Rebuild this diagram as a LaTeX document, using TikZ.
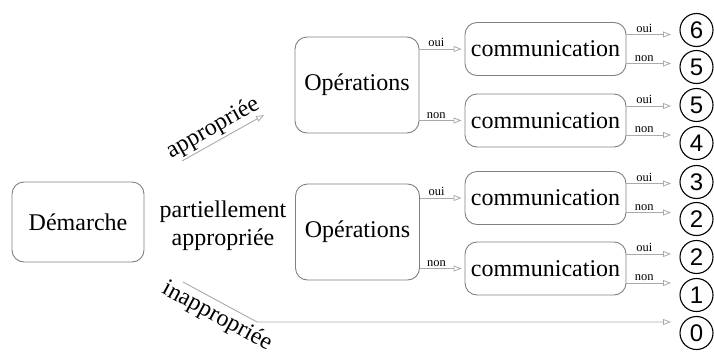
\documentclass[tikz,border=0pt]{standalone}
\usepackage{fontspec}
\setmainfont{Liberation Serif}
\newfontfamily\digitfont{Liberation Sans}
\usetikzlibrary{arrows.meta}
\definecolor{boxgray}{RGB}{128,128,128}
\definecolor{linegray}{RGB}{170,170,170}
\tikzset{
  bigtext/.style={font=\fontsize{24}{28}\selectfont},
  smalltext/.style={font=\fontsize{12.5}{14}\selectfont, inner sep=1.5pt},
  rbox/.style={draw=boxgray, line width=0.9pt, rounded corners=12pt, bigtext, inner sep=0pt},
  combox/.style={rbox, minimum width=161pt, minimum height=53pt},
  opbox/.style={rbox, minimum width=124pt, minimum height=96pt},
  numc/.style={circle, draw=black, line width=1.1pt, minimum size=33pt, inner sep=0pt,
    font=\digitfont\fontsize{24}{24}\selectfont},
  arr/.style={draw=linegray, line width=0.9pt, -{Triangle[open, length=8pt, width=6pt, line width=0.8pt]}},
}
\begin{document}
\begin{tikzpicture}[x=1pt, y=-1pt]
\useasboundingbox (0,0) rectangle (714,351);
% boxes
\node[rbox, minimum width=132pt, minimum height=80pt] (dem) at (78,222) {Démarche};
\node[opbox] (op1) at (357,85) {Opérations};
\node[opbox] (op2) at (357.5,232) {Opérations};
\node[combox] (c1) at (545.5,49) {communication};
\node[combox] (c2) at (545.5,120.5) {communication};
\node[combox] (c3) at (545.5,198) {communication};
\node[combox] (c4) at (545.5,268.5) {communication};
% result circles
\node[numc] (n1) at (696.5,30) {6};
\node[numc] (n2) at (696.5,67) {5};
\node[numc] (n3) at (696.5,105) {5};
\node[numc] (n4) at (696.5,143) {4};
\node[numc] (n5) at (696.5,182) {3};
\node[numc] (n6) at (696.5,219) {2};
\node[numc] (n7) at (696.5,257) {2};
\node[numc] (n8) at (696.5,295) {1};
\node[numc] (n9) at (696.5,333) {0};
\coordinate (xtip) at (671,0);
% partially appropriate label
\node[bigtext, align=center] (part) at (223,226) {partiellement\\appropriée};
% appropriee arrow
\coordinate (a0) at (182,161);
\coordinate (a1) at (264,115);
\draw[arr] (a0) -- node[midway, above, sloped, bigtext, inner sep=2pt, xshift=-4pt] {appropriée} (a1);
% inappropriee
\coordinate (i0) at (183,282);
\coordinate (i1) at (257,322);
\draw[arr] (i0) -- node[pos=0.55, below, sloped, bigtext, inner sep=3pt] {inappropriée} (i1) -- (i1 -| xtip);
% operations -> communication
\draw[arr] (op1.east |- c1.west) -- node[pos=0.4, above, smalltext] {oui} ([xshift=-3pt]c1.west);
\draw[arr] (op1.east |- c2.west) -- node[pos=0.4, above, smalltext] {non} ([xshift=-3pt]c2.west);
\draw[arr] (op2.east |- c3.west) -- node[pos=0.4, above, smalltext] {oui} ([xshift=-3pt]c3.west);
\draw[arr] (op2.east |- c4.west) -- node[pos=0.4, above, smalltext] {non} ([xshift=-3pt]c4.west);
% communication -> results
\foreach \c in {c1, c2, c3, c4}{
  \draw[arr] ([yshift=14.5pt]\c.east) coordinate (s) -- node[pos=0.4, above, smalltext] {oui} (s -| xtip);
  \draw[arr] ([yshift=-14.5pt]\c.east) coordinate (s) -- node[pos=0.4, above, smalltext] {non} (s -| xtip);
}
\end{tikzpicture}
\end{document}
